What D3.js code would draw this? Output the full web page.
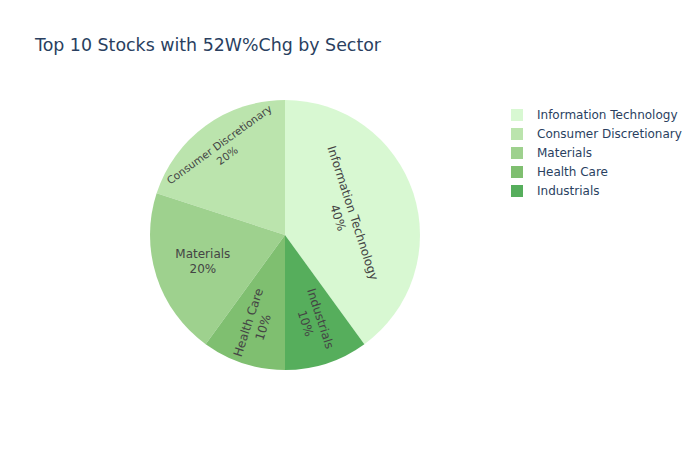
<!DOCTYPE html>
<html>
<head>
<meta charset="utf-8">
<script src="https://cdn.jsdelivr.net/npm/d3@7"></script>
<style>
  body { margin: 0; background: #fff; }
  svg text { font-family: "DejaVu Sans", verdana, arial, sans-serif; }
</style>
</head>
<body>
<script>
// sectors in legend order, with number of top-10 stocks in each
const sectors = ["Information Technology", "Consumer Discretionary", "Materials", "Health Care", "Industrials"];
const counts = [4, 2, 2, 1, 1];
const sectorColors = ["#d8f8d2", "#bbe4ad", "#9ed18e", "#7fbf70", "#56ae5c"];
const chartTitle = "Top 10 Stocks with 52W%Chg by Sector";

const width = 700;
const height = 450;
const cx = 285;
const cy = 235;
const radius = 135;

// how each inside label sits in its slice
const labelPlacement = {
  "Information Technology": { orient: "tangential", r: 0.47, size: 12 },
  "Consumer Discretionary": { orient: "tangential", r: 0.78, size: 10.5 },
  "Materials": { orient: "horizontal", r: 0.64, size: 12 },
  "Health Care": { orient: "radial", r: 0.70, size: 12 },
  "Industrials": { orient: "radial", r: 0.67, size: 12 }
};

const data = sectors.map((s, i) => ({ sector: s, count: counts[i], color: sectorColors[i] }));
const total = d3.sum(counts);
const pct = d3.format(".0%");

const svg = d3.select("body").
append("svg").
attr("width", width).
attr("height", height);

svg.append("text").
attr("x", 35).
attr("y", 51).
attr("fill", "#2a3f5f").
style("font-size", "17.4px").
text(chartTitle);

// counterclockwise, first slice ending at 12 o'clock
const start = 2 * Math.PI * counts[0] / total;
const pie = d3.pie().
sort(null).
value(d => d.count).
startAngle(start).
endAngle(start - 2 * Math.PI);

const arc = d3.arc().innerRadius(0).outerRadius(radius);
const arcs = pie(data);

const g = svg.append("g").attr("transform", `translate(${cx},${cy})`);

g.selectAll("path").
data(arcs).
enter().
append("path").
attr("d", arc).
attr("fill", d => d.data.color);

const toDeg = a => a * 180 / Math.PI;
const normRot = r => {
  r = ((r % 360) + 360) % 360;
  if (r > 180) r -= 360;
  if (r > 90) r -= 180;
  if (r < -90) r += 180;
  return r;
};

arcs.forEach(d => {
  const p = labelPlacement[d.data.sector];
  const mid = (d.startAngle + d.endAngle) / 2;
  const x = Math.sin(mid) * radius * p.r;
  const y = -Math.cos(mid) * radius * p.r;
  let rot = 0;
  if (p.orient === "tangential") rot = normRot(toDeg(mid));
  if (p.orient === "radial") rot = normRot(toDeg(mid) - 90);
  const lineH = p.size * 1.3;
  const t = g.append("text").
  attr("transform", `translate(${x},${y}) rotate(${rot})`).
  attr("text-anchor", "middle").
  attr("fill", "#444").
  style("font-size", `${p.size}px`);
  t.append("tspan").
  attr("x", 0).
  attr("y", -lineH / 2).
  attr("dominant-baseline", "central").
  text(d.data.sector);
  t.append("tspan").
  attr("x", 0).
  attr("y", lineH / 2).
  attr("dominant-baseline", "central").
  text(pct(d.data.count / total));
});

const legend = svg.append("g").attr("transform", "translate(497,115)");
const items = legend.selectAll("g").
data(data).
enter().
append("g").
attr("transform", (d, i) => `translate(0,${i * 19})`);

items.append("rect").
attr("x", 14).
attr("y", -6).
attr("width", 12).
attr("height", 12).
attr("fill", d => d.color);

items.append("text").
attr("x", 40).
attr("y", 0).
attr("dominant-baseline", "central").
attr("fill", "#2a3f5f").
style("font-size", "12px").
text(d => d.sector);
</script>
</body>
</html>
